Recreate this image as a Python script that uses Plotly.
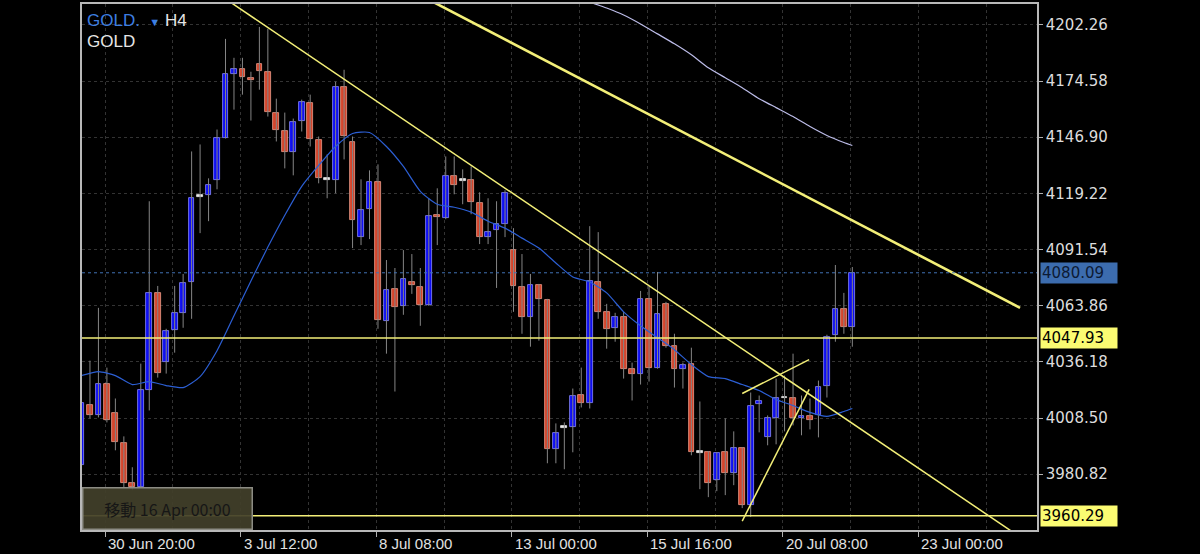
import plotly.graph_objects as go

# ---------------- data ----------------
bar_index = list(range(92))
open_ = [3985.23, 4014.69, 4009.78, 4025.50, 4010.77, 3996.04, 3976.40, 3974.43, 4022.55, 4070.18,
         4036.30, 4052.01, 4060.36, 4075.58, 4117.80, 4118.30, 4125.66, 4146.77, 4178.20, 4180.65,
         4176.23, 4183.11, 4179.18, 4159.05, 4150.21, 4139.41, 4155.12, 4163.96, 4145.30, 4126.15,
         4125.66, 4171.81, 4144.32, 4097.67, 4111.42, 4124.68, 4056.43, 4072.14, 4063.79, 4075.58,
         4073.12, 4064.29, 4108.47, 4107.00, 4127.62, 4125.66, 4125.66, 4114.37, 4097.67, 4101.11,
         4104.06, 4091.29, 4073.12, 4058.39, 4074.10, 4066.74, 3993.09, 4003.89, 4003.89, 4020.09,
         4015.68, 4075.58, 4060.85, 4052.99, 4058.39, 4032.86, 4030.41, 4067.23, 4033.35, 4064.78,
         4044.15, 4032.86, 4035.32, 3991.62, 3991.62, 3977.87, 3991.62, 3981.31, 3993.58, 3965.60,
         4015.19, 3998.98, 4008.31, 4018.62, 4018.62, 4008.31, 4009.29, 4009.78, 4024.52, 4049.56,
         4062.32, 4053.48]
high = [4017.15, 4036.79, 4062.81, 4033.35, 4018.13, 3999.47, 3984.25, 4035.32, 4115.35, 4073.61,
        4052.50, 4073.61, 4079.51, 4139.90, 4143.34, 4126.64, 4150.70, 4195.38, 4186.05, 4186.05,
        4179.18, 4201.28, 4200.30, 4165.92, 4159.05, 4156.10, 4165.43, 4167.89, 4147.27, 4138.43,
        4174.27, 4180.16, 4147.27, 4126.15, 4130.57, 4133.52, 4086.38, 4082.45, 4091.29, 4089.33,
        4082.45, 4116.82, 4121.73, 4137.44, 4137.44, 4131.06, 4132.54, 4119.77, 4116.82, 4115.35,
        4120.75, 4102.09, 4089.33, 4079.51, 4074.60, 4067.23, 4005.86, 4006.35, 4023.04, 4033.35,
        4103.07, 4100.13, 4064.78, 4060.36, 4060.85, 4035.81, 4071.16, 4073.61, 4080.49, 4065.76,
        4050.05, 4035.81, 4043.17, 4016.66, 3992.11, 3991.62, 4008.31, 4001.93, 3994.07, 4021.08,
        4019.60, 4009.78, 4027.95, 4029.43, 4040.23, 4019.60, 4018.13, 4026.97, 4049.56, 4083.93,
        4070.18, 4082.94]
low = [3983.76, 4008.31, 4008.80, 4006.35, 3992.60, 3974.43, 3972.96, 3973.94, 4012.24, 4028.44,
       4030.41, 4040.72, 4052.99, 4057.41, 4099.64, 4105.53, 4121.24, 4146.28, 4160.52, 4167.89,
       4155.12, 4170.34, 4157.09, 4144.81, 4131.55, 4128.12, 4149.72, 4142.35, 4124.19, 4116.82,
       4119.28, 4135.97, 4092.27, 4093.75, 4096.69, 4052.50, 4040.23, 4021.57, 4059.38, 4069.69,
       4053.97, 4063.79, 4093.75, 4106.51, 4118.79, 4113.88, 4108.97, 4094.24, 4094.24, 4072.63,
       4097.67, 4060.85, 4050.05, 4043.66, 4046.61, 3986.22, 3986.22, 3983.27, 3991.62, 4013.71,
       4013.22, 4057.41, 4042.68, 4046.12, 4027.95, 4017.15, 4025.01, 4026.48, 4032.86, 4043.17,
       4023.53, 4023.04, 3990.15, 3973.45, 3969.52, 3972.47, 3970.50, 3975.42, 3964.12, 3959.70,
       4001.44, 3995.06, 3995.55, 4001.93, 4004.87, 4000.00, 4002.91, 3998.98, 4018.62, 4046.12,
       4050.05, 4043.66]
close = [4015.68, 4009.78, 4025.50, 4007.33, 3996.53, 3976.40, 3974.43, 4022.55, 4070.18, 4030.90,
         4051.52, 4060.36, 4075.09, 4116.82, 4117.80, 4123.21, 4146.77, 4178.20, 4180.65, 4176.72,
         4175.25, 4179.67, 4159.54, 4150.70, 4139.41, 4154.63, 4164.45, 4145.79, 4126.64, 4126.15,
         4171.81, 4147.27, 4106.02, 4110.93, 4124.68, 4056.92, 4071.65, 4063.30, 4077.05, 4074.10,
         4064.29, 4107.98, 4107.49, 4127.62, 4123.21, 4125.66, 4114.86, 4097.67, 4100.13, 4104.06,
         4119.28, 4073.61, 4058.39, 4074.10, 4067.23, 3993.09, 4000.95, 4003.89, 4019.60, 4015.68,
         4076.07, 4060.85, 4052.50, 4058.39, 4032.86, 4030.41, 4067.23, 4033.35, 4059.87, 4044.15,
         4032.86, 4034.83, 3991.62, 3991.62, 3976.40, 3991.13, 3981.31, 3993.58, 3965.60, 4014.20,
         4016.66, 4008.31, 4018.62, 4018.62, 4008.31, 4009.29, 4007.33, 4024.02, 4048.57, 4062.32,
         4053.48, 4080.09]

ma_fast_idx = [0, 2, 4, 6, 8, 10, 12, 14, 16, 18, 20, 22, 24, 26, 28, 30, 32, 34, 36, 38, 40, 42, 44,
               46, 48, 50, 52, 54, 56, 58, 60, 62, 64, 66, 68, 70, 72, 74, 76, 78, 80, 82, 84, 86, 88,
               90, 91]
ma_fast_val = [4029.43, 4031.39, 4029.43, 4025.01, 4026.48, 4024.52, 4023.53, 4028.94, 4041.70, 4058.89,
               4076.07, 4092.76, 4108.47, 4122.72, 4133.03, 4142.36, 4148.74, 4149.23, 4142.36, 4132.54,
               4120.26, 4113.88, 4112.40, 4109.97, 4105.53, 4102.09, 4097.18, 4092.27, 4084.91, 4078.03,
               4075.58, 4070.18, 4060.85, 4053.97, 4048.08, 4042.19, 4034.83, 4028.94, 4027.95, 4025.01,
               4022.06, 4017.64, 4014.69, 4011.26, 4009.29, 4011.75, 4013.22]
ma_slow_idx = [58, 60, 62, 64, 66, 68, 70, 72, 74, 76, 78, 80, 82, 84, 86, 88, 90, 91]
ma_slow_val = [4218.00, 4213.55, 4210.60, 4207.17, 4202.75, 4197.84, 4192.93, 4187.53, 4181.14, 4176.23,
               4171.33, 4165.92, 4161.50, 4157.09, 4152.17, 4147.76, 4144.32, 4142.85]

# drawn trend lines: two anchor points each (bar, price)
trend1_x = [17.0, 111.0]
trend1_y = [4215.10, 3949.30]
trend2_x = [41.0, 110.8]
trend2_y = [4214.70, 4062.80]
trend3_x = [78.0, 85.9]
trend3_y = [4020.60, 4037.30]
trend4_x = [78.0, 85.9]
trend4_y = [3957.70, 4022.60]

level_lines = [4047.93, 3960.29]
current_price = 4080.09

y_tick_vals = [3980.82, 4008.50, 4036.18, 4063.86, 4091.54, 4119.22, 4146.90, 4174.58, 4202.26]
y_tick_text = ["3980.82", "4008.50", "4036.18", "4063.86", "4091.54", "4119.22", "4146.90",
               "4174.58", "4202.26"]
x_tick_vals = [2.8, 18.8, 34.8, 50.8, 66.8, 82.8, 98.8]
x_tick_text = ["30 Jun 20:00", "3 Jul 12:00", "8 Jul 08:00", "13 Jul 00:00", "15 Jul 16:00",
               "20 Jul 08:00", "23 Jul 00:00"]
x_minor_grid = [10.8, 26.8, 42.8, 58.8, 74.8, 90.8, 106.8]

# ---------------- styling ----------------
UP_FILL, UP_EDGE = "#0e0ef2", "#8c8cff"
DN_FILL, DN_EDGE = "#d4452c", "#eb9c8a"
DOJI = "#e8e8e8"
WICK = "#858585"
YELLOW = "#f3ef78"

body_base, body_h, body_fill, body_edge = [], [], [], []
for o, c in zip(open_, close):
    if c > o:
        body_fill.append(UP_FILL); body_edge.append(UP_EDGE)
    elif c < o:
        body_fill.append(DN_FILL); body_edge.append(DN_EDGE)
    else:
        body_fill.append(DOJI); body_edge.append(DOJI)
    h = max(abs(c - o), 0.9)
    body_h.append(h)
    body_base.append(min(o, c) if c != o else o - 0.45)

wick_x, wick_y = [], []
for i, hi, lo in zip(bar_index, high, low):
    wick_x += [i, i, None]
    wick_y += [lo, hi, None]

fig = go.Figure()
fig.add_trace(go.Scatter(x=wick_x, y=wick_y, mode="lines",
                         line=dict(color=WICK, width=1), hoverinfo="skip"))
fig.add_trace(go.Bar(x=bar_index, y=body_h, base=body_base, width=0.68,
                     marker=dict(color=body_fill, line=dict(color=body_edge, width=0.8))))
fig.add_trace(go.Scatter(x=ma_fast_idx, y=ma_fast_val, mode="lines",
                         line=dict(color="#2c5fd4", width=1.2, shape="spline", smoothing=0.6)))
fig.add_trace(go.Scatter(x=ma_slow_idx, y=ma_slow_val, mode="lines",
                         line=dict(color="#bcbce8", width=1.2, shape="spline", smoothing=0.6)))
for tx, ty, w in [(trend1_x, trend1_y, 1.5), (trend2_x, trend2_y, 2.6),
                  (trend3_x, trend3_y, 1.5), (trend4_x, trend4_y, 1.5)]:
    fig.add_trace(go.Scatter(x=tx, y=ty, mode="lines", line=dict(color=YELLOW, width=w)))

for lv in level_lines:
    fig.add_shape(type="line", xref="paper", x0=0, x1=1, yref="y", y0=lv, y1=lv,
                  line=dict(color=YELLOW, width=1.5))
fig.add_shape(type="line", xref="paper", x0=0, x1=1, yref="y", y0=current_price, y1=current_price,
              line=dict(color="#4072b4", width=1, dash="3px,3px"))

ann = []
for tv, tt in zip(x_tick_vals, x_tick_text):
    ann.append(dict(x=tv, xref="x", y=0, yref="paper", yanchor="top", xanchor="left",
                    xshift=1, yshift=-3, text=tt, showarrow=False,
                    font=dict(family="Liberation Sans, Arial", size=15, color="#e2e2e2")))
# price boxes on the axis
ann.append(dict(x=1, xref="paper", y=current_price, yref="y", xanchor="left", xshift=3,
                text=f"{current_price:.2f}", showarrow=False, bgcolor="#3c6cae", width=74, height=18,
                align="left", font=dict(family="DejaVu Sans", size=15, color="#0c1a33")))
for lv in level_lines:
    ann.append(dict(x=1, xref="paper", y=lv, yref="y", xanchor="left", xshift=3,
                    text=f"{lv:.2f}", showarrow=False, bgcolor="#fbfb72", width=74, height=18,
                    align="left", font=dict(family="DejaVu Sans", size=15, color="#000000")))
# symbol header
ann.append(dict(x=0, xref="paper", y=1, yref="paper", xanchor="left", yanchor="top",
                xshift=3, yshift=-5, showarrow=False, align="left",
                text="<span style='color:#3d7fe3'>GOLD.</span>  <span style='color:#3d7fe3;font-size:11px'>▼</span> H4",
                font=dict(family="Liberation Sans, Arial", size=17, color="#e6e6e6")))
ann.append(dict(x=0, xref="paper", y=1, yref="paper", xanchor="left", yanchor="top",
                xshift=3, yshift=-26, showarrow=False, text="GOLD",
                font=dict(family="Liberation Sans, Arial", size=17, color="#e6e6e6")))
# bottom-left scroll box
ann.append(dict(x=0, xref="paper", y=0, yref="paper", xanchor="left", yanchor="bottom",
                xshift=0, yshift=0, showarrow=False, text="移動 16 Apr 00:00",
                width=166, height=38, bgcolor="rgba(66,64,42,0.93)", bordercolor="#8c8c84",
                borderwidth=1.5,
                font=dict(family="Noto Sans CJK JP", size=16, color="#161616")))

fig.update_layout(
    width=1200, height=554,
    margin=dict(l=82, r=163, t=2, b=24),
    paper_bgcolor="#000000", plot_bgcolor="#000000",
    showlegend=False, bargap=0,
    annotations=ann,
    xaxis=dict(range=[0.06, 112.8], tickmode="array", tickvals=x_tick_vals, showticklabels=False,
               ticks="outside", ticklen=5, tickcolor="#b0b0b0", tickwidth=1,
               showgrid=True, gridcolor="#333333", griddash="dot", gridwidth=1, zeroline=False,
               showline=True, mirror=True, linecolor="#b8b8b8", linewidth=1.5,
               minor=dict(tickmode="array", tickvals=x_minor_grid, showgrid=True,
                          gridcolor="#333333", griddash="dot", ticks="")),
    yaxis=dict(range=[3953.32, 4212.57], side="right", tickmode="array", tickvals=y_tick_vals,
               ticktext=y_tick_text, ticks="outside", ticklen=4, tickcolor="#b0b0b0",
               tickfont=dict(family="DejaVu Sans", size=15, color="#dcdcdc"),
               showgrid=True, gridcolor="#333333", griddash="dot", gridwidth=1, zeroline=False,
               showline=True, mirror=True, linecolor="#b8b8b8", linewidth=1.5),
)

fig.write_html("out.html", config={"displayModeBar": False},
               post_script="document.body.style.margin='0';document.body.style.background='#000';")
